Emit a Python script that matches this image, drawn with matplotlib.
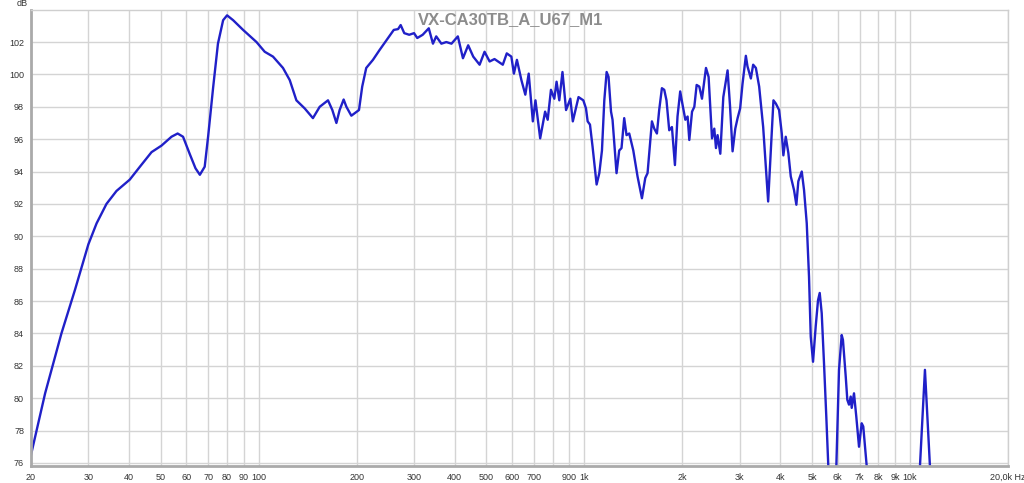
import numpy as np
import matplotlib
matplotlib.use('Agg')
import matplotlib.pyplot as plt
from matplotlib.ticker import FixedLocator, FixedFormatter, NullLocator

# frequency response (Hz, dB)
freq_hz = [20, 22.1, 24.8, 27.3, 30, 31.8, 34.1, 36.6, 40.2, 43.2, 46.9, 50.3, 54, 56.4, 58.6,
           61.4, 64, 66, 68.3, 70, 72.5, 75, 77.8, 80, 83.5, 89.6, 98.5, 104.4, 110.7, 118.8,
           124.6, 130.6, 138.5, 146.8, 154, 163.3, 168.4, 173.3, 177.3, 182.4, 186, 192.6,
           203.3, 208, 214, 224.4, 235, 246.7, 260, 268, 273, 280, 290, 300, 307, 319, 333,
           343, 351, 364, 377, 391, 409, 424, 440, 456, 477, 494, 512, 530, 562, 578, 597,
           608, 621, 641, 659, 675, 695, 708, 732, 758, 772, 790, 809, 822, 838, 857, 879,
           906, 922, 960, 993, 1012, 1024, 1041, 1060, 1091, 1112, 1133, 1152, 1171, 1187,
           1208, 1221, 1256, 1280, 1301, 1326, 1348, 1374, 1414, 1457, 1503, 1539, 1564,
           1613, 1640, 1671, 1698, 1731, 1760, 1788, 1823, 1858, 1898, 1933, 1970, 2000,
           2043, 2076, 2101, 2142, 2177, 2213, 2255, 2298, 2364, 2408, 2467, 2507, 2537,
           2566, 2616, 2672, 2704, 2754, 2801, 2853, 2908, 2956, 3010, 3060, 3134, 3170,
           3247, 3300, 3364, 3443, 3542, 3610, 3669, 3740, 3809, 3874, 3964, 4040, 4086,
           4155, 4232, 4305, 4406, 4479, 4542, 4653, 4729, 4820, 4898, 4958, 5039, 5136,
           5220, 5283, 5358, 5446, 5535, 5614, 5760, 5942, 6055, 6171, 6226, 6349, 6421,
           6498, 6577, 6624, 6732, 6843, 6975, 7108, 7188, 7365, 7600, 10400, 10732,
           11117, 11517, 11900]
spl_db = [76.5, 80.3, 84.0, 86.7, 89.5, 90.8, 92.0, 92.8, 93.5, 94.3, 95.2, 95.6, 96.15, 96.35,
          96.15, 95.1, 94.2, 93.8, 94.3, 96.2, 99.2, 101.9, 103.35, 103.65, 103.35, 102.75,
          102.0, 101.4, 101.1, 100.4, 99.65, 98.4, 97.9, 97.3, 98.0, 98.4, 97.8, 97.0, 97.8,
          98.45, 98.0, 97.45, 97.8, 99.25, 100.4, 100.9, 101.5, 102.1, 102.75, 102.8, 103.05,
          102.55, 102.45, 102.55, 102.25, 102.45, 102.85, 101.9, 102.35, 101.9, 102.0, 101.9,
          102.35, 101.0, 101.8, 101.1, 100.6, 101.4, 100.8, 100.95, 100.6, 101.3, 101.1,
          100.05, 100.9, 99.65, 98.75, 100.05, 97.1, 98.4, 96.05, 97.7, 97.2, 99.05, 98.5,
          99.55, 98.4, 100.15, 97.8, 98.5, 97.1, 98.6, 98.4, 97.9, 97.1, 96.9, 95.55, 93.2,
          93.9, 95.3, 98.4, 100.15, 99.85, 97.7, 97.2, 93.9, 95.3, 95.45, 97.3, 96.25, 96.35,
          95.3, 93.7, 92.35, 93.6, 93.9, 97.1, 96.65, 96.35, 97.8, 99.15, 99.05, 98.4, 96.55,
          96.75, 94.4, 97.4, 98.95, 98.2, 97.2, 97.4, 95.95, 97.7, 98.0, 99.35, 99.25, 98.5,
          100.4, 99.85, 96.05, 96.65, 95.45, 96.25, 95.1, 98.6, 99.25, 100.25, 98.1, 95.25,
          96.65, 97.3, 97.9, 99.4, 101.15, 100.5, 99.75, 100.6, 100.4, 99.25, 96.75, 94.3,
          92.15, 95.35, 98.4, 98.2, 97.8, 96.35, 95.0, 96.15, 95.15, 93.7, 92.85, 91.95, 93.4,
          94.0, 92.85, 90.8, 87.5, 83.8, 82.25, 84.45, 86.05, 86.5, 85.25, 82.15, 78.85, 75.8,
          72, 75.8, 81.75, 83.9, 83.6, 81.35, 79.9, 79.6, 80.1, 79.4, 80.3, 78.85, 77.0,
          78.45, 78.25, 75.8, 72, 72, 75.8, 81.75, 75.8, 72]

title = 'VX-CA30TB_A_U67_M1'
x_grid = [20, 30, 40, 50, 60, 70, 80, 90, 100, 200, 300, 400, 500, 600, 700, 800, 900,
          1000, 2000, 3000, 4000, 5000, 6000, 7000, 8000, 9000, 10000, 20000]
x_labels = ['20', '30', '40', '50', '60', '70', '80', '90', '100', '200', '300', '400', '500',
            '600', '700', '', '900', '1k', '2k', '3k', '4k', '5k', '6k', '7k', '8k', '9k',
            '10k', '20,0k Hz']
y_ticks = list(range(76, 104, 2))

plt.rcParams['font.family'] = ['Liberation Sans', 'DejaVu Sans']

fig = plt.figure(figsize=(10.24, 4.83), dpi=100)
ax = fig.add_axes([31 / 1024, 1 - 466 / 483, 977 / 1024, 456 / 483])

ax.plot(freq_hz, spl_db, color='#2020c8', lw=1.7, solid_joinstyle='round')

ax.set_xscale('log')
ax.set_xlim(20, 20000)
ax.set_ylim(75.81, 103.98)

ax.xaxis.set_major_locator(FixedLocator(x_grid))
ax.xaxis.set_major_formatter(FixedFormatter(x_labels))
ax.xaxis.set_minor_locator(NullLocator())
ax.set_yticks(y_ticks)
ax.grid(True, color='#d4d4d4', lw=1)
ax.tick_params(axis='both', length=0, labelsize=6.5, colors='#333333')
ax.tick_params(axis='x', pad=5)
ax.tick_params(axis='y', pad=5)

for side in ['top', 'right']:
    ax.spines[side].set_color('#cfcfcf')
    ax.spines[side].set_linewidth(1)
for side in ['left', 'bottom']:
    ax.spines[side].set_color('#aaaaaa')
    ax.spines[side].set_linewidth(2)

fig.text(22 / 1024, 1 - 4 / 483, 'dB', fontsize=6.5, color='#333333', ha='center', va='center')
fig.text(511 / 1024, 1 - 20 / 483, title, fontsize=12, fontweight='bold', color='#8c8c8c',
         ha='center', va='center')

fig.savefig('out.png', dpi=100)
